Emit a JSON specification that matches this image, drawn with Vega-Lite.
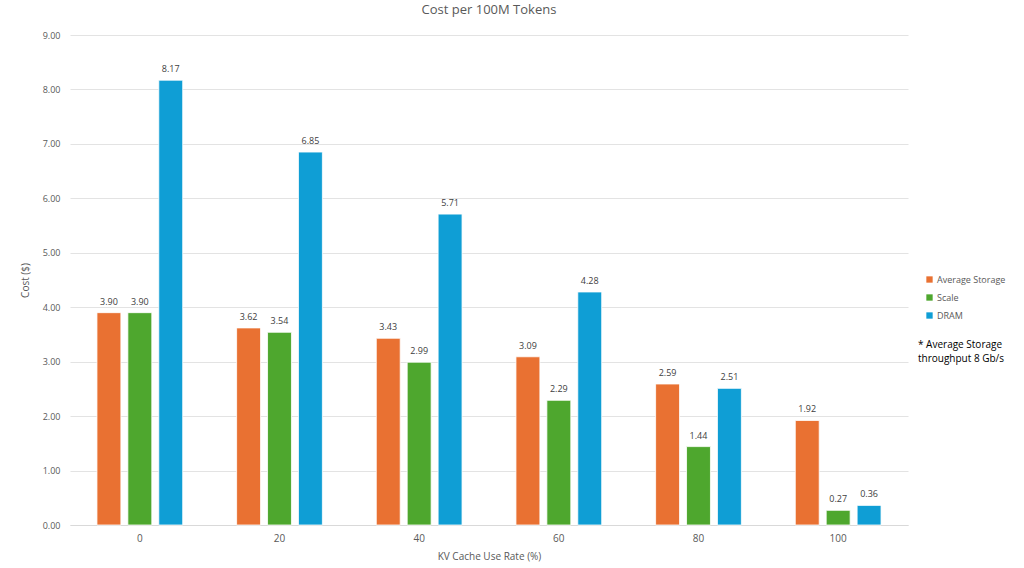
{
  "$schema": "https://vega.github.io/schema/vega-lite/v6.json",
  "width": 838,
  "height": 490,
  "autosize": "none",
  "padding": {"left": 70, "top": 35, "right": 116, "bottom": 43},
  "background": "white",
  "config": {
    "font": "Open Sans",
    "view": {"stroke": null}
  },
  "title": {
    "text": "Cost per 100M Tokens",
    "fontSize": 13,
    "fontWeight": "normal",
    "color": "#595959",
    "offset": 14,
    "font": "Open Sans"
  },
  "data": {
    "values": [
      {"rate": "0", "series": "Average Storage", "cost": 3.90},
      {"rate": "0", "series": "Scale", "cost": 3.90},
      {"rate": "0", "series": "DRAM", "cost": 8.17},
      {"rate": "20", "series": "Average Storage", "cost": 3.62},
      {"rate": "20", "series": "Scale", "cost": 3.54},
      {"rate": "20", "series": "DRAM", "cost": 6.85},
      {"rate": "40", "series": "Average Storage", "cost": 3.43},
      {"rate": "40", "series": "Scale", "cost": 2.99},
      {"rate": "40", "series": "DRAM", "cost": 5.71},
      {"rate": "60", "series": "Average Storage", "cost": 3.09},
      {"rate": "60", "series": "Scale", "cost": 2.29},
      {"rate": "60", "series": "DRAM", "cost": 4.28},
      {"rate": "80", "series": "Average Storage", "cost": 2.59},
      {"rate": "80", "series": "Scale", "cost": 1.44},
      {"rate": "80", "series": "DRAM", "cost": 2.51},
      {"rate": "100", "series": "Average Storage", "cost": 1.92},
      {"rate": "100", "series": "Scale", "cost": 0.27},
      {"rate": "100", "series": "DRAM", "cost": 0.36}
    ]
  },
  "encoding": {
    "x": {
      "field": "rate",
      "type": "nominal",
      "sort": ["0", "20", "40", "60", "80", "100"],
      "scale": {"paddingInner": 0.386, "paddingOuter": 0.193},
      "axis": {
        "title": "KV Cache Use Rate (%)",
        "titleFontSize": 10,
        "titleFontWeight": "normal",
        "titleColor": "#595959",
        "titlePadding": 8,
        "labelAngle": 0,
        "labelFontSize": 10,
        "labelColor": "#595959",
        "labelPadding": 8,
        "ticks": false,
        "domainColor": "#d9d9d9",
        "grid": false
      }
    },
    "xOffset": {
      "field": "series",
      "type": "nominal",
      "sort": ["Average Storage", "Scale", "DRAM"],
      "scale": {"paddingInner": 0.226, "paddingOuter": 0}
    },
    "y": {
      "field": "cost",
      "type": "quantitative",
      "scale": {"domain": [0, 9], "nice": false},
      "axis": {
        "title": "Cost ($)",
        "titleFontSize": 10,
        "titleFontWeight": "normal",
        "titleColor": "#595959",
        "titlePadding": 12,
        "format": ".2f",
        "values": [0, 1, 2, 3, 4, 5, 6, 7, 8, 9],
        "labelOverlap": false,
        "labelFontSize": 9,
        "labelColor": "#595959",
        "labelPadding": 10,
        "ticks": false,
        "domain": false,
        "gridColor": "#e3e3e3"
      }
    }
  },
  "layer": [
    {
      "mark": {"type": "bar", "stroke": "white", "strokeWidth": 0.8},
      "encoding": {
        "color": {
          "field": "series",
          "type": "nominal",
          "sort": ["Average Storage", "Scale", "DRAM"],
          "scale": {
            "domain": ["Average Storage", "Scale", "DRAM"],
            "range": ["#E97132", "#4EA72E", "#0F9ED5"]
          },
          "legend": {
            "title": null,
            "orient": "none",
            "legendX": 855,
            "legendY": 240,
            "symbolType": "square",
            "symbolSize": 40,
            "symbolStrokeWidth": 0,
            "labelFontSize": 9,
            "labelColor": "#595959",
            "rowPadding": 8,
            "labelOffset": 3
          }
        }
      }
    },
    {
      "mark": {
        "type": "text",
        "baseline": "bottom",
        "dy": -6,
        "fontSize": 9,
        "color": "#404040"
      },
      "encoding": {
        "text": {"field": "cost", "type": "quantitative", "format": ".2f"}
      }
    },
    {
      "data": {"values": [{"note": ["* Average Storage", "throughput 8 Gb/s"], "ypos": 3.3}]},
      "mark": {
        "type": "text",
        "align": "left",
        "baseline": "middle",
        "fontSize": 10,
        "color": "#000000",
        "lineHeight": 14
      },
      "encoding": {
        "x": {"value": 848},
        "xOffset": null,
        "y": {"field": "ypos", "type": "quantitative"},
        "text": {"field": "note"}
      }
    }
  ]
}
